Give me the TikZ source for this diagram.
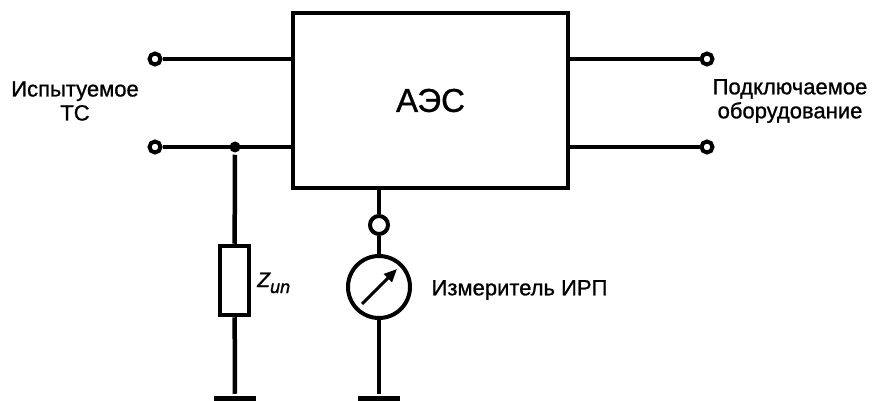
\documentclass[tikz,border=0pt]{standalone}
\usepackage{fontspec}
\setmainfont{Liberation Sans}[
	BoldFont={Liberation Sans}, BoldFeatures={FakeBold=1},
	BoldItalicFont={Liberation Sans Italic}, BoldItalicFeatures={FakeBold=1}]
\usetikzlibrary{positioning,arrows.meta}

\begin{document}
\begin{tikzpicture}[
		x=1pt, y=-1pt,
		line width=4.5pt,
		term/.style={draw, circle, fill=white, inner sep=0pt, minimum size=11pt, line width=4pt},
		joint/.style={circle, fill, inner sep=0pt, minimum size=11pt},
		earth/.style={fill, inner sep=0pt, minimum width=42pt, minimum height=5pt},
		lbl/.style={font=\fontsize{22}{24}\selectfont\bfseries, align=center}
		]
		\useasboundingbox (0,0) rectangle (875,401);
		
		\node[draw, minimum width=275pt, minimum height=175pt,
			font=\fontsize{33}{36}\selectfont\bfseries] (AES) at (430.5,100.5) {АЭС};
		
		% input side
		\node[term] (in1) at (155,59) {};
		\node[term] (in2) at (155,147) {};
		\node[joint] (J) at (235,147) {};
		\draw (in1) -- (in1 -| AES.west);
		\draw (in2) -- (in2 -| AES.west);
		\node[lbl] (dut) at (75,101) {Испытуемое\\ТС};
		
		% output side
		\node[term] (out1) at (707,59) {};
		\node[term] (out2) at (707,147) {};
		\draw (out1 -| AES.east) -- (out1);
		\draw (out2 -| AES.east) -- (out2);
		\node[lbl] (equip) at (790,101) {Подключаемое\\оборудование};
		
		% load branch
		\node[draw, inner sep=0pt, minimum width=29pt, minimum height=69pt] (R) at (234.5,280.5) {};
		\node[lbl, font=\fontsize{21}{24}\selectfont\bfseries\itshape, anchor=base west, inner sep=0pt]
			(Rlbl) at (255,287) {Z\raisebox{-6pt}{\fontsize{18}{18}\selectfont un}};
		\node[earth] (g1) at (235,398.5) {};
		\draw (J) -- (R);
		\draw (R) -- (g1);
		
		% meter branch
		\node[term, minimum size=18pt] (mt) at (379,225) {};
		\node[draw, circle, inner sep=0pt, minimum size=62pt, line width=4pt] (M) at (379,287) {};
		\node[lbl, right=14pt of M, yshift=-3pt] (Mlbl) {Измеритель ИРП};
		\node[earth] (g2) at (379,398.5) {};
		\draw (mt |- AES.south) -- (mt);
		\draw (mt) -- (M);
		\draw (M) -- (g2);
		\draw[line width=3pt, -{Triangle[length=13pt,width=11pt]}]
			([shift={(-17,17)}]M.center) -- ([shift={(18,-18)}]M.center);
		
	\end{tikzpicture}
\end{document}
